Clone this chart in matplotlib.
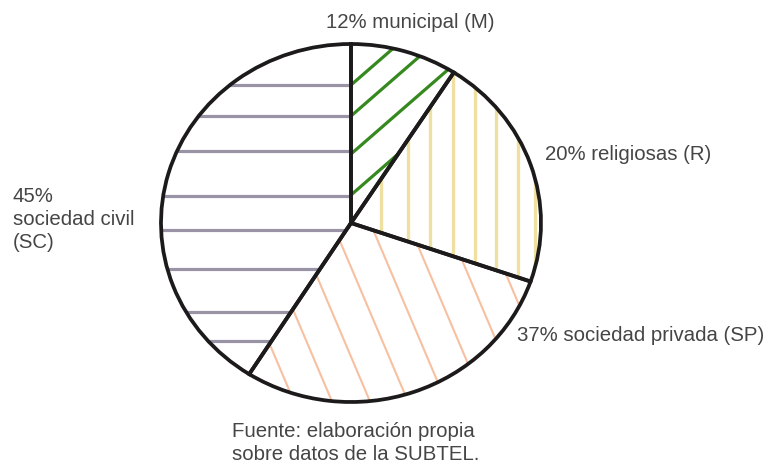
import numpy as np
import matplotlib
matplotlib.use("Agg")
import matplotlib.pyplot as plt

# Wedge sizes (the printed labels do not add up to 100)
segments = ["M", "R", "SP", "SC"]
sizes = [9.1, 21.2, 28.7, 41.0]
labels = ["12% municipal (M)", "20% religiosas (R)",
          "37% sociedad privada (SP)", "45%\nsociedad civil\n(SC)"]
source = "Fuente: elaboración propia\nsobre datos de la SUBTEL."

# Pie geometry in image pixels (slightly elliptical in the original)
CX, CY, RX, RY = 351, 224, 190, 179
W, H = 773, 464


def to_data(px, py):
    return (np.asarray(px) - CX) / RX, (CY - np.asarray(py)) / RY


def frame(ax):
    ax.set_aspect("auto")
    ax.set_xlim(to_data(0, 0)[0], to_data(W, 0)[0])
    ax.set_ylim(to_data(0, H)[1], to_data(0, 0)[1])
    ax.axis("off")


fig = plt.figure(figsize=(W / 100, H / 100), dpi=100)
ax = fig.add_axes([0, 0, 1, 1])

# white fill
wedges, _ = ax.pie(sizes, startangle=90, counterclock=False,
                   wedgeprops=dict(facecolor="white", edgecolor="none"))
frame(ax)


def hatch(wedge, segs, color, lw):
    for (x0, y0), (x1, y1) in segs:
        xs, ys = to_data([x0, x1], [y0, y1])
        ln, = ax.plot(xs, ys, color=color, lw=lw, solid_capstyle="butt", zorder=2)
        ln.set_clip_path(wedge)


L = 400
# municipal: green rising diagonals
a = np.radians(41)
green = [((CX - L, y0 + L * np.tan(a)), (CX + L, y0 - L * np.tan(a)))
         for y0 in [86, 117, 155, 196]]
hatch(wedges[0], green, "#35891f", 2.3)

# religiosas: pale yellow verticals
yellow = [((x0, 0), (x0, H)) for x0 in [381, 408, 430, 452.5, 475, 496, 518, 535]]
hatch(wedges[1], yellow, "#efe0a2", 2.4)

# sociedad privada: salmon steep diagonals
b = np.radians(67)
salmon = [((x0 - L * np.cos(b), 320 - L * np.sin(b)), (x0 + L * np.cos(b), 320 + L * np.sin(b)))
          for x0 in np.arange(259, 560, 38)]
hatch(wedges[2], salmon, "#f7c0a0", 1.5)

# sociedad civil: grey horizontals
grey = [((0, y0), (W, y0)) for y0 in [86, 117, 152, 197, 231, 270, 313, 342]]
hatch(wedges[3], grey, "#9a93a6", 2.3)

# outlines on top
ax.pie(sizes, startangle=90, counterclock=False,
       wedgeprops=dict(facecolor="none", edgecolor="#1c1a1a", linewidth=2.7, zorder=3))
frame(ax)

txt = dict(fontsize=14.7, color="#454545", family="Liberation Sans", va="baseline", ha="left")


def put(x, y, s, **kw):
    fig.text(x / W, 1 - y / H, s, **{**txt, **kw})


# multi-line texts are anchored at the baseline of their last line
put(326, 28, labels[0])
put(545, 160, labels[1])
put(517, 341, labels[2])
put(13, 248, labels[3], linespacing=1.25)
put(232, 460, source, linespacing=1.25)

fig.savefig("out.png", dpi=100)
